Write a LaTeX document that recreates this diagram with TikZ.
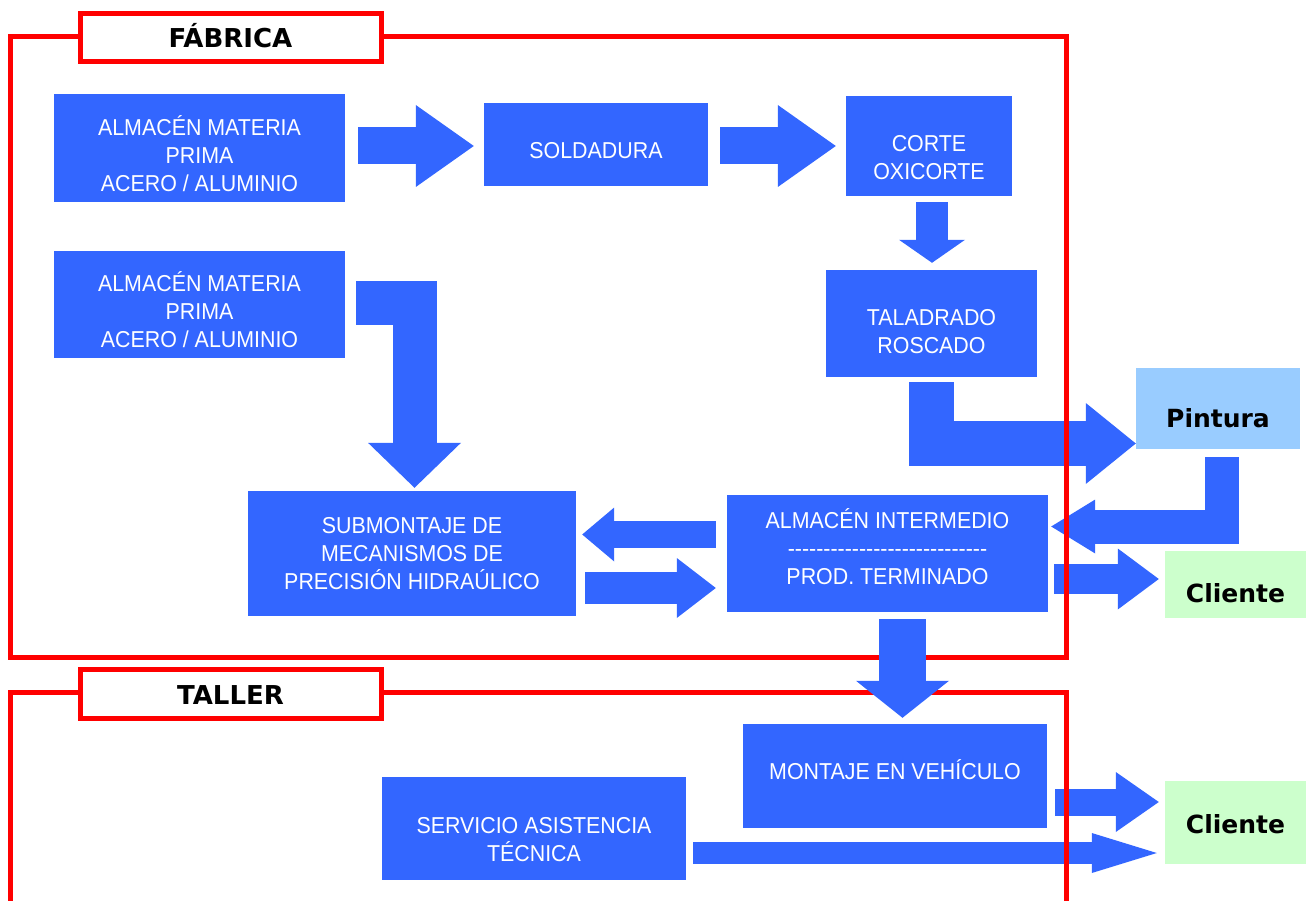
\documentclass[tikz,border=0pt]{standalone}
\usepackage{fontspec}
\newfontfamily\boxfont[FakeStretch=0.93]{Liberation Sans}
\newfontfamily\tagfont{DejaVu Sans}
\usetikzlibrary{arrows.meta}
\definecolor{ProcBlue}{HTML}{3366FF}
\definecolor{PaintBlue}{HTML}{99CCFF}
\definecolor{ClientGreen}{HTML}{CCFFCC}
\definecolor{ZoneRed}{HTML}{FF0000}
% extra room above the first line / below the last line of a box
\newcommand{\headroom}[1]{\rule{0pt}{#1pt}}
\newcommand{\footroom}[1]{\rule[-#1pt]{0pt}{#1pt}}

\begin{document}
\begin{tikzpicture}[x=1pt, y=-1pt,
    proc/.style={fill=ProcBlue, text=white, font=\boxfont\fontsize{23}{28}\selectfont, align=center, inner sep=0pt},
    dest/.style={font=\tagfont\bfseries\fontsize{25}{30}\selectfont, inner sep=0pt, text depth=0pt},
    zone/.style={draw=ZoneRed, line width=5pt},
    zonetag/.style={zone, fill=white, font=\tagfont\bfseries\fontsize{26}{30}\selectfont, minimum width=301pt, minimum height=48pt, inner sep=0pt, text height=21pt, text depth=0pt},
    blk/.style n args={3}{draw=ProcBlue, line width=#1, -{Triangle[length=#2, width=#3, line width=0pt]}}]
	\useasboundingbox (0,0) rectangle (1309,901);
	% fabrica
	\node[proc, minimum width=291pt, minimum height=108pt] (rawA) at (199.5,148) {\headroom{31}ALMACÉN MATERIA\\PRIMA\\ACERO / ALUMINIO};
	\node[proc, minimum width=224pt, minimum height=83pt, text height=28.5pt, text depth=0pt] (weld) at (596,144.5) {SOLDADURA};
	\node[proc, minimum width=166pt, minimum height=100pt] (cut) at (929,146) {\headroom{38.5}CORTE\\OXICORTE};
	\node[proc, minimum width=211pt, minimum height=107pt] (drill) at (931.5,323.5) {\headroom{31.5}TALADRADO\\ROSCADO};
	\node[proc, minimum width=291pt, minimum height=107pt] (rawB) at (199.5,304.5) {\headroom{30.5}ALMACÉN MATERIA\\PRIMA\\ACERO / ALUMINIO};
	\node[proc, minimum width=328pt, minimum height=125pt] (subasm) at (412,553.5) {SUBMONTAJE DE\\MECANISMOS DE\\PRECISIÓN HIDRAÚLICO};
	\node[proc, minimum width=321pt, minimum height=117pt] (store) at (887.5,553.5) {ALMACÉN INTERMEDIO\\\foreach \i in {1,...,28}{-}\\PROD. TERMINADO\footroom{14}};
	\node[dest, fill=PaintBlue, minimum width=164pt, minimum height=81pt, text height=37pt] (paint) at (1218,408.5) {Pintura};
	\node[dest, fill=ClientGreen, minimum width=141pt, minimum height=67pt, text height=35pt] (clientA) at (1235.5,584.5) {Cliente};
	% taller
	\node[proc, minimum width=304pt, minimum height=104pt, text height=18pt, text depth=11.5pt] (mount) at (895,776) {MONTAJE EN VEHÍCULO};
	\node[proc, minimum width=304pt, minimum height=103pt] (service) at (534,828.5) {\headroom{37.5}SERVICIO ASISTENCIA\\TÉCNICA};
	\node[dest, fill=ClientGreen, minimum width=141pt, minimum height=83pt, text height=21pt] (clientB) at (1235.5,822.5) {Cliente};

	% flow arrows
	\draw[blk={37pt}{58pt}{82pt}, shorten <=13pt, shorten >=10pt] ([yshift=2pt]rawA.east) -- ([yshift=-1.5pt]weld.west);
	\draw[blk={37pt}{58pt}{82pt}, shorten <=12pt, shorten >=10pt] ([yshift=-1.5pt]weld.east) -- (cut.west);
	\draw[blk={32pt}{23pt}{66pt}, shorten <=6pt, shorten >=7pt] ([xshift=3pt]cut.south) -- ([xshift=0.5pt]drill.north);
	\draw[blk={45pt}{50pt}{81pt}, shorten <=5pt] (drill.south) |- ([yshift=-35pt]paint.west);
	\draw[blk={34pt}{44pt}{54pt}, shorten <=8pt, shorten >=3pt] ([xshift=3.5pt]paint.south) |- ([yshift=27pt]store.east);
	\draw[blk={44pt}{45pt}{93pt}, shorten <=11pt, shorten >=3pt] ([yshift=1.5pt]rawB.east) -| ([xshift=2.5pt]subasm.north);
	\draw[blk={27pt}{32pt}{54pt}, shorten <=11pt, shorten >=6pt] ([yshift=19pt]store.west) -- ([yshift=19pt]subasm.east);
	\draw[blk={32pt}{39pt}{60pt}, shorten <=9pt, shorten >=11pt] ([yshift=-34.5pt]subasm.east) -- ([yshift=-34.5pt]store.west);
	\draw[blk={30pt}{41pt}{61pt}, shorten <=6pt, shorten >=6pt] ([yshift=-25.5pt]store.east) -- ([yshift=5.5pt]clientA.west);
	\draw[blk={27pt}{43pt}{60pt}, shorten <=8pt, shorten >=6pt] ([yshift=-26pt]mount.east) -- ([yshift=20.5pt]clientB.west);
	\draw[blk={22pt}{65pt}{40pt}, shorten <=7pt, shorten >=8pt] ([yshift=-24.5pt]service.east) -- ([yshift=-30.5pt]clientB.west);

	% zones
	\draw[zone] (10,37) rectangle (1066,657);
	\draw[zone] (10,905) |- (1066,692) -- (1066,905);
	\node[zonetag] (fab) at (230.5,37.5) {FÁBRICA};
	\node[zonetag, minimum height=49pt] (shop) at (230.5,693.5) {TALLER};

	\draw[blk={47pt}{37pt}{93pt}, shorten <=7pt, shorten >=6pt] ([xshift=15pt]store.south) -- ([xshift=7.5pt]mount.north);
\end{tikzpicture}
\end{document}
